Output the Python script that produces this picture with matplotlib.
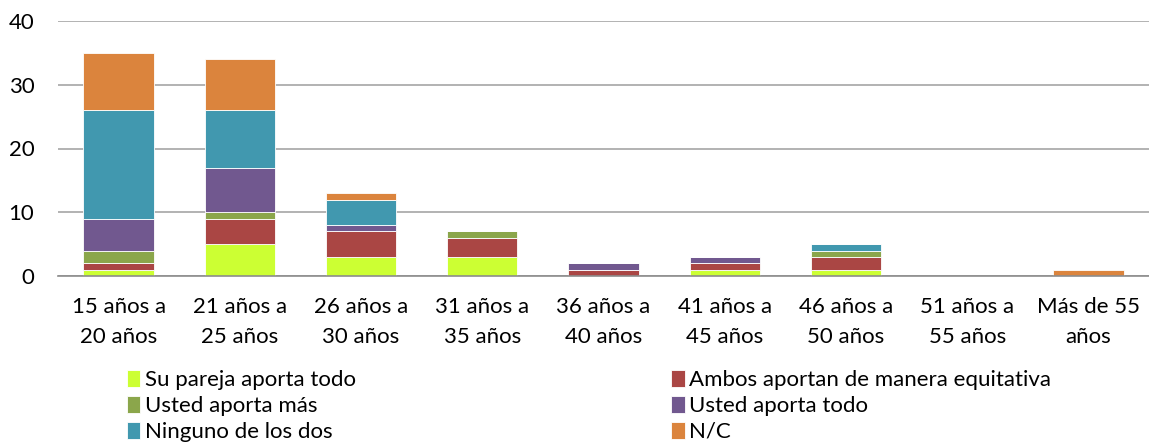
import matplotlib
matplotlib.use('Agg')
import matplotlib.pyplot as plt
import numpy as np

categories = ['15 años a\n20 años', '21 años a\n25 años', '26 años a\n30 años',
              '31 años a\n35 años', '36 años a\n40 años', '41 años a\n45 años',
              '46 años a\n50 años', '51 años a\n55 años', 'Más de 55\naños']

su_pareja_todo = [1, 5, 3, 3, 0, 1, 1, 0, 0]
ambos_equitativa = [1, 4, 4, 3, 1, 1, 2, 0, 0]
usted_mas = [2, 1, 0, 1, 0, 0, 1, 0, 0]
usted_todo = [5, 7, 1, 0, 1, 1, 0, 0, 0]
ninguno = [17, 9, 4, 0, 0, 0, 1, 0, 0]
nc = [9, 8, 1, 0, 0, 0, 0, 0, 1]

series = [
    ('Su pareja aporta todo', su_pareja_todo, '#ccff33'),
    ('Ambos aportan de manera equitativa', ambos_equitativa, '#aa4644'),
    ('Usted aporta más', usted_mas, '#8ba64b'),
    ('Usted aporta todo', usted_todo, '#71588f'),
    ('Ninguno de los dos', ninguno, '#4198af'),
    ('N/C', nc, '#db843d'),
]

plt.rcParams['font.family'] = ['Lato', 'DejaVu Sans']

fig = plt.figure(figsize=(11.49, 4.42), dpi=100)
ax = fig.add_axes([58 / 1149, 1 - 276 / 442, 1 - 58 / 1149, 255 / 442])

x = np.arange(len(categories))
bottom = np.zeros(len(categories))
handles = []
for label, vals, color in series:
    vals = np.array(vals, dtype=float)
    h = ax.bar(x, vals, 0.58, bottom=bottom, color=color, label=label,
               edgecolor='white', linewidth=0.6, zorder=3)
    handles.append(h)
    bottom += vals

ax.set_xlim(-0.5, len(categories) - 0.5)
ax.set_ylim(0, 40)
ax.set_yticks([0, 10, 20, 30, 40])
ax.yaxis.grid(True, color='#a6a6a6', linewidth=1.2, zorder=0)
ax.set_xticks(x)
ax.set_xticklabels(categories, fontsize=16, linespacing=1.65)
ax.tick_params(axis='both', length=0, labelsize=16)
ax.tick_params(axis='x', pad=15)
ax.tick_params(axis='y', pad=17)
for s in ['top', 'right', 'left']:
    ax.spines[s].set_visible(False)
ax.spines['bottom'].set_color('#8c8c8c')
ax.spines['bottom'].set_linewidth(1.2)
ax.spines['bottom'].set_zorder(4)

order = [0, 2, 4, 1, 3, 5]
fig.legend([handles[i] for i in order], [series[i][0] for i in order],
           ncol=2, loc='lower left', bbox_to_anchor=(118 / 1149, -0.02),
           frameon=False, fontsize=16, handlelength=0.6, handleheight=0.8,
           handletextpad=0.2, columnspacing=14.2, labelspacing=0.25,
           borderaxespad=0)

fig.savefig('out.png', dpi=100)
